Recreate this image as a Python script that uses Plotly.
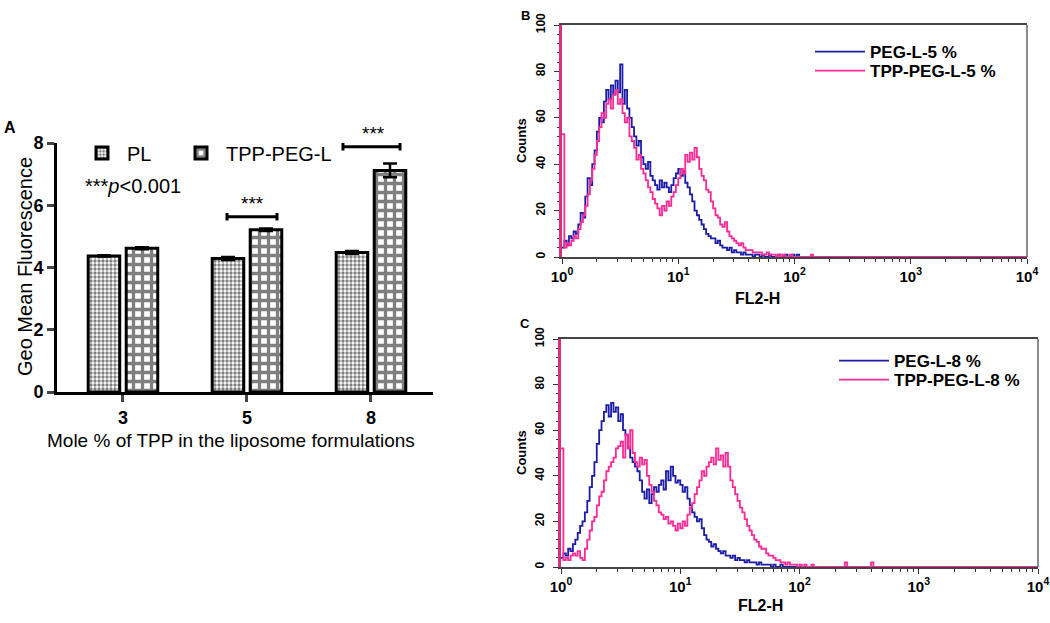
import plotly.graph_objects as go

W, H = 1050, 623

# ---------------- Panel A data ----------------
TPP_MOLE_PCT = ["3", "5", "8"]
PL_MEAN = [4.37, 4.29, 4.48]
PL_SEM = [0.02, 0.05, 0.05]
TPP_PEG_L_MEAN = [4.62, 5.21, 7.12]
TPP_PEG_L_SEM = [0.03, 0.04, 0.22]

# ---------------- Flow cytometry histograms (counts per FL2-H channel) ----------------
# channels are log-spaced, 0.02 decade apart from 10^0, last channel at 10^4
CHANNEL_STEP_DECADES = 0.02

PEG_L_5 = [
    4, 7, 5, 9, 8, 11, 10, 14, 19, 17,
    26, 34, 31, 40, 46, 54, 60, 58, 67, 72,
    68, 74, 70, 76, 71, 83, 66, 72, 64, 60,
    56, 52, 48, 50, 43, 40, 38, 41, 35, 33,
    31, 29, 33, 30, 32, 30, 28, 31, 34, 36,
    38, 35, 37, 32, 30, 27, 24, 20, 18, 16,
    14, 12, 10, 9, 8, 8, 6, 7, 5, 4,
    4, 3, 4, 2, 3, 2, 2, 1, 2, 1,
    1, 1, 0, 1, 1, 0, 1, 0, 0, 1,
    0, 0, 0, 1, 0, 0, 1, 0, 0, 1,
    0, 1, 0, 0, 0, 0, 0, 0, 0, 0,
    0, 0, 0, 0, 0, 0, 0, 0, 0, 0,
    0, 0, 0, 0, 0, 0, 0, 0, 0, 0,
    0, 0, 0, 0, 0, 0, 0,
]
TPP_PEG_L_5 = [
    53, 4, 6, 5, 7, 9, 8, 12, 15, 18,
    22, 27, 33, 38, 44, 50, 56, 62, 60, 66,
    68, 64, 70, 72, 66, 68, 62, 58, 60, 52,
    50, 47, 42, 44, 38, 36, 33, 30, 28, 25,
    23, 21, 18, 22, 20, 24, 22, 26, 28, 31,
    34, 38, 36, 44, 41, 45, 42, 47, 43, 38,
    35, 33, 29, 28, 24, 21, 18, 17, 14, 13,
    15, 11, 9, 8, 7, 6, 5, 6, 4, 3,
    3, 3, 2, 2, 2, 2, 1, 1, 2, 1,
    1, 1, 0, 1, 0, 1, 0, 0, 1, 0,
    0, 0, 0, 0, 0, 0, 0, 1, 0, 0,
    0, 0, 0, 0, 0, 0, 0, 0, 0, 0,
    0, 0, 0, 0, 0, 0, 0, 0, 0, 0,
    0, 0, 0, 0, 0, 0, 0,
]
PEG_L_8 = [
    4, 6, 5, 8, 7, 10, 12, 15, 18, 20,
    24, 29, 35, 40, 46, 54, 60, 64, 68, 71,
    66, 72, 68, 70, 64, 67, 60, 58, 52, 48,
    46, 44, 42, 38, 33, 30, 34, 28, 32, 35,
    33, 36, 38, 34, 42, 38, 44, 40, 37, 38,
    36, 33, 35, 30, 27, 24, 22, 20, 21, 17,
    14, 12, 11, 9, 10, 8, 7, 6, 7, 5,
    5, 4, 5, 3, 4, 3, 3, 2, 3, 2,
    2, 2, 1, 2, 1, 1, 1, 1, 0, 1,
    0, 0, 1, 0, 0, 0, 0, 0, 0, 0,
    0, 0, 0, 0, 0, 0, 0, 0, 0, 0,
    0, 0, 0, 0, 0, 0, 0, 0, 0, 0,
    0, 0, 0, 0, 0, 0, 0, 0, 0, 0,
    0, 0, 0, 0, 0, 0, 0,
]
TPP_PEG_L_8 = [
    52, 3, 4, 3, 5, 6, 5, 7, 4, 3,
    8, 12, 16, 20, 22, 27, 31, 33, 38, 42,
    44, 46, 48, 52, 53, 55, 48, 58, 52, 60,
    50, 46, 44, 48, 45, 47, 40, 36, 33, 29,
    27, 24, 23, 21, 22, 19, 20, 18, 16, 19,
    17, 20, 18, 23, 26, 28, 32, 35, 38, 42,
    40, 44, 46, 48, 45, 52, 47, 49, 44, 50,
    44, 38, 35, 32, 29, 26, 24, 21, 18, 16,
    14, 12, 11, 9, 8, 8, 6, 5, 5, 4,
    3, 3, 2, 2, 1, 2, 1, 1, 1, 0,
    1, 0, 1, 0, 0, 1, 0, 0, 0, 0,
    0, 0, 0, 0, 0, 0, 0, 0, 0, 2,
    0, 0, 0, 0, 0, 0, 0, 0, 0, 0,
    2, 0, 0, 0, 0, 0, 0,
]
FL2_H = [10 ** (i * CHANNEL_STEP_DECADES) for i in range(len(PEG_L_5) - 1)] + [10000]

LOG_TICKS = [1, 10, 100, 1000, 10000]
LOG_TICKTEXT = ["10<sup>0</sup>", "10<sup>1</sup>", "10<sup>2</sup>", "10<sup>3</sup>", "10<sup>4</sup>"]

BLUE = "#1c1ca8"
PINK = "#ff2a95"
AXPINK = "#d8307c"
FONT = "Arial, Liberation Sans, sans-serif"


def px(x):
    return x / W


def py(y):
    return 1 - y / H


fig = go.Figure()

# ---------------- Panel A bars ----------------
fig.add_trace(go.Bar(
    x=TPP_MOLE_PCT, y=PL_MEAN, name="PL",
    marker=dict(color="white", line=dict(color="black", width=3),
                pattern=dict(shape=".", size=4, solidity=0.55, fgcolor="black", bgcolor="white")),
    error_y=dict(type="data", array=PL_SEM, color="black", thickness=2.5, width=7),
    xaxis="x", yaxis="y", legend="legend",
))
fig.add_trace(go.Bar(
    x=TPP_MOLE_PCT, y=TPP_PEG_L_MEAN, name="TPP-PEG-L",
    marker=dict(color="white", line=dict(color="black", width=3),
                pattern=dict(shape="+", size=9, solidity=0.6, fgcolor="black", bgcolor="white")),
    error_y=dict(type="data", array=TPP_PEG_L_SEM, color="black", thickness=2.5, width=7),
    xaxis="x", yaxis="y", legend="legend6",
))

# ---------------- Panel B ----------------
fig.add_trace(go.Scatter(x=FL2_H, y=PEG_L_5, name="PEG-L-5 %", mode="lines", line_shape="hv",
                         line=dict(color=BLUE, width=1.8), xaxis="x2", yaxis="y2", legend="legend2"))
fig.add_trace(go.Scatter(x=FL2_H, y=TPP_PEG_L_5, name="TPP-PEG-L-5 %", mode="lines", line_shape="hv",
                         line=dict(color=PINK, width=1.8), xaxis="x2", yaxis="y2", legend="legend3"))

# ---------------- Panel C ----------------
fig.add_trace(go.Scatter(x=FL2_H, y=PEG_L_8, name="PEG-L-8 %", mode="lines", line_shape="hv",
                         line=dict(color=BLUE, width=1.8), xaxis="x3", yaxis="y3", legend="legend4"))
fig.add_trace(go.Scatter(x=FL2_H, y=TPP_PEG_L_8, name="TPP-PEG-L-8 %", mode="lines", line_shape="hv",
                         line=dict(color=PINK, width=1.8), xaxis="x3", yaxis="y3", legend="legend5"))

flow_x = dict(type="log", range=[0, 4], showline=True, linecolor="#444", linewidth=1.5, mirror=True,
              ticks="outside", ticklen=5, tickwidth=1.2, tickcolor="#333",
              tickvals=LOG_TICKS, ticktext=LOG_TICKTEXT,
              tickfont=dict(family=FONT, size=15, color="black", weight="bold"),
              minor=dict(dtick="D1", ticks="outside", ticklen=3, tickcolor="#333", showgrid=False),
              showgrid=False, zeroline=False, automargin=False)
flow_y = dict(range=[0, 100], showline=True, linecolor=AXPINK, linewidth=2.5, mirror=False,
              ticks="outside", ticklen=5, tickwidth=1.2, tickcolor="#333", dtick=20, tickangle=-90,
              tickfont=dict(family=FONT, size=12, color="black", weight="bold"),
              minor=dict(dtick=4, ticks="outside", ticklen=2.5, tickcolor="#333", showgrid=False),
              showgrid=False, zeroline=False, ticklabelstandoff=4, automargin=False)


def flow_legend(x_px, y_px):
    return dict(x=px(x_px), y=py(y_px), xanchor="left", yanchor="middle",
                font=dict(size=17, weight="bold"), bgcolor="rgba(0,0,0,0)", itemwidth=50)


def bar_legend(x_px, y_px):
    return dict(x=px(x_px), y=py(y_px), xanchor="left", yanchor="middle",
                font=dict(size=20), bgcolor="rgba(0,0,0,0)", itemwidth=40)


fig.update_layout(
    width=W, height=H, margin=dict(l=0, r=0, t=0, b=0, autoexpand=False),
    paper_bgcolor="white", plot_bgcolor="white",
    font=dict(family=FONT, color="black"),
    barmode="group", bargap=0.387, bargroupgap=0.17,
    xaxis=dict(domain=[px(57), px(433)], anchor="y", type="category", range=[-0.532, 2.5],
               showline=True, linecolor="black", linewidth=3, ticks="outside", ticklen=7, tickwidth=3,
               tickfont=dict(size=18, weight="bold"), showgrid=False, zeroline=False, automargin=False),
    yaxis=dict(domain=[py(392), py(143)], anchor="x", range=[0, 8], dtick=2,
               showline=True, linecolor="black", linewidth=3, ticks="outside", ticklen=7, tickwidth=3,
               tickfont=dict(size=18, weight="bold"), showgrid=False, zeroline=False, automargin=False),
    xaxis2=dict(domain=[px(562), px(1027)], anchor="y2", **flow_x),
    yaxis2=dict(domain=[py(257), py(25)], anchor="x2", **flow_y),
    xaxis3=dict(domain=[px(561), px(1038)], anchor="y3", **flow_x),
    yaxis3=dict(domain=[py(567), py(339)], anchor="x3", **flow_y),
    legend=bar_legend(77, 153),
    legend6=bar_legend(176, 153),
    legend2=flow_legend(810, 52),
    legend3=flow_legend(810, 71),
    legend4=flow_legend(834, 361),
    legend5=flow_legend(834, 380),
    showlegend=True,
)

# right-hand frame lines of the flow panels
for xr, yr in (("x2 domain", "y2 domain"), ("x3 domain", "y3 domain")):
    fig.add_shape(type="line", xref=xr, yref=yr, x0=1, x1=1, y0=0, y1=1,
                  line=dict(color="#666", width=1.5))

# significance brackets (panel A)
for x0, x1, yv in ((0.839, 1.242, 5.63), (1.774, 2.234, 7.88)):
    d = 0.12
    fig.add_shape(type="path", xref="x", yref="y",
                  path=f"M {x0},{yv-d} L {x0},{yv+d} M {x0},{yv} L {x1},{yv} M {x1},{yv-d} L {x1},{yv+d}",
                  line=dict(color="black", width=3))

ann = [
    dict(x=px(252), y=py(203), text="***", font=dict(size=19)),
    dict(x=px(373), y=py(134), text="***", font=dict(size=19)),
    dict(x=px(133), y=py(186), text="***<i>p</i><0.001", font=dict(size=20)),
    dict(x=px(25), y=py(267), text="Geo Mean Fluorescence", textangle=-90, font=dict(size=20)),
    dict(x=px(231), y=py(440), text="Mole % of TPP in the liposome formulations", font=dict(size=19)),
    dict(x=px(10), y=py(127), text="<b>A</b>", font=dict(size=16)),
    dict(x=px(525), y=py(15), text="<b>B</b>", font=dict(size=13)),
    dict(x=px(525), y=py(323), text="<b>C</b>", font=dict(size=13)),
    dict(x=px(521), y=py(141), text="<b>Counts</b>", textangle=-90, font=dict(size=13)),
    dict(x=px(521), y=py(453), text="<b>Counts</b>", textangle=-90, font=dict(size=13)),
    dict(x=px(757), y=py(298), text="<b>FL2-H</b>", font=dict(size=16)),
    dict(x=px(760), y=py(605), text="<b>FL2-H</b>", font=dict(size=16)),
]
for a in ann:
    a.update(xref="paper", yref="paper", xanchor="center", yanchor="middle", showarrow=False)
    fig.add_annotation(**a)

fig.write_html("out.html", config={"displayModeBar": False},
               post_script="document.body.style.margin='0px';")
